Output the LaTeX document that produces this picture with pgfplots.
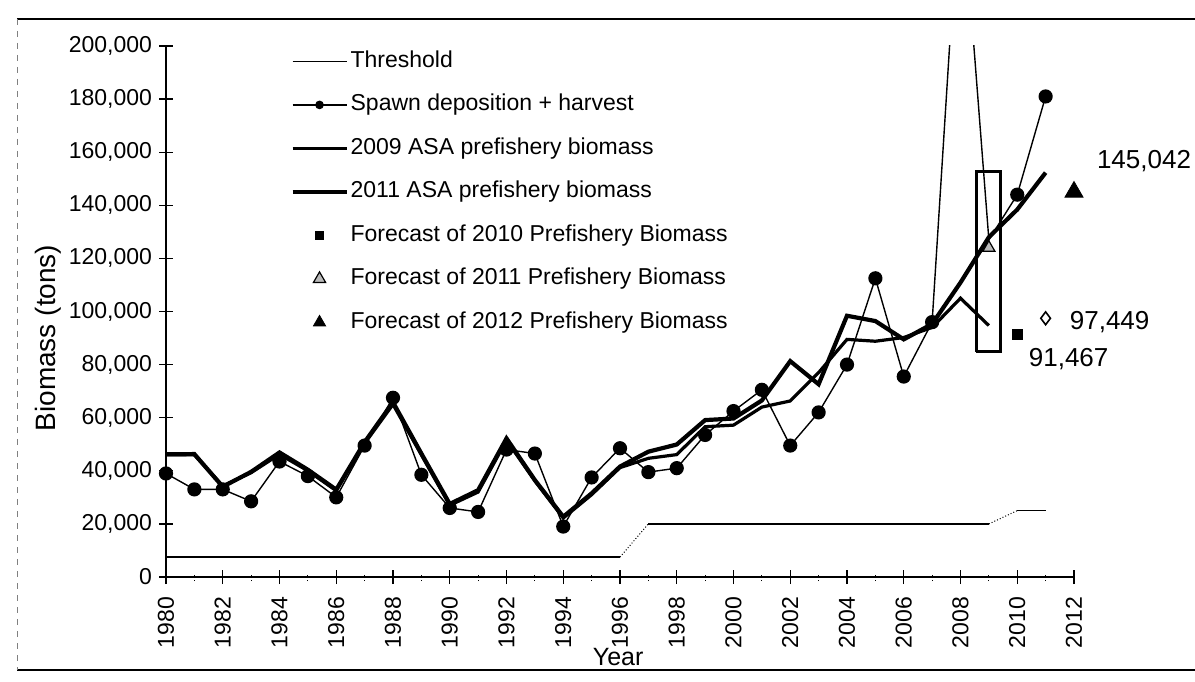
\documentclass[border=0pt]{standalone}
\usepackage{fontspec}
\setmainfont{Liberation Sans}
\usepackage{pgfplots}
\pgfplotsset{compat=1.18}
\begin{document}
\begin{tikzpicture}[x=1pt,y=1pt]
\useasboundingbox (-83,-52) rectangle (514.5,288.5);
\draw[line width=0.7pt] (-74.5,279) -- (514.5,279);
\draw[line width=0.7pt] (-74.5,-46.5) -- (514.5,-46.5);
\draw[line width=0.4pt, dashed, gray] (-74.5,279) -- (-74.5,-46.5);
\begin{axis}[
  at={(0,0)}, anchor=south west,
  width=454pt, height=265.5pt, scale only axis,
  xmin=1980, xmax=2012, ymin=0, ymax=200000,
  axis x line=bottom, axis y line=left,
  axis line style={-, line width=0.8pt},
  clip mode=individual,
  unbounded coords=jump,
  tick align=center,
  major tick length=7pt, minor tick length=4pt,
  tick style={black, line width=0.6pt},
  minor tick style={black, line width=0.4pt, densely dotted},
  xtick={1980,1982,...,2012},
  minor xtick={1981,1983,...,2011},
  ytick={0,20000,...,200000},
  scaled y ticks=false,
  /pgf/number format/assume math mode=true,
  yticklabel style={/pgf/number format/.cd, fixed, 1000 sep={,}},
  xticklabel style={rotate=90, anchor=east, /pgf/number format/1000 sep={}},
  xticklabel shift=3pt,
  tick label style={font=\fontsize{11.5}{13}\selectfont},
  xlabel={Year}, ylabel={Biomass (tons)},
  xlabel style={at={(axis description cs:0.498,-0.151)}, anchor=center, font=\fontsize{12.5}{14}\selectfont},
  ylabel style={at={(axis description cs:-0.13,0.45)}, anchor=center, font=\fontsize{14}{16}\selectfont},
  legend image code/.code={\draw[mark repeat=2,mark phase=2,#1] plot coordinates {(0pt,0pt) (13.5pt,0pt) (27pt,0pt)};},
  legend cell align=left,
  legend style={at={(axis description cs:0.1366,1)}, anchor=north west, yshift=-2pt,
    draw=none, fill=none, inner sep=0pt, row sep=10.75pt,
    font=\fontsize{11.5}{13}\selectfont,
    nodes={inner xsep=1pt, inner ysep=0pt, text height=8.5pt, text depth=2.5pt}},
]
% Threshold
\addplot[black, line width=0.6pt] coordinates {
(1980,7500) (1996,7500) (1996.5,nan) (1997,20000) (2009,20000) (2009.5,nan) (2010,25000) (2011,25000)};
\addlegendentry{Threshold}
% Spawn deposition + harvest
\addplot[black, line width=0.7pt, mark=*, mark size=3.2pt,
  mark indices={1,2,3,4,5,6,7,8,9,10,11,12,13,14,15,16,17,18,19,20,21,22,23,24,25,26,27,28,30,31,32},
  legend image post style={mark indices={2}, mark size=1.8pt}] coordinates {
(1980,39000) (1981,33000) (1982,33000) (1983,28500) (1984,43500) (1985,38000)
(1986,30000) (1987,49500) (1988,67500) (1989,38500) (1990,26000) (1991,24500)
(1992,48000) (1993,46500) (1994,19000) (1995,37500) (1996,48500) (1997,39500)
(1998,41000) (1999,53500) (2000,62500) (2001,70500) (2002,49500) (2003,62000)
(2004,80000) (2005,112500) (2006,75500) (2007,96000) (2008,265000) (2009,127000)
(2010,144000) (2011,181000)};
\addlegendentry{Spawn deposition + harvest}
% 2009 ASA
\addplot[black, line width=1.6pt] coordinates {
(1980,46000) (1981,46000) (1982,34300) (1983,39300) (1984,46200) (1985,40000)
(1986,32500) (1987,50300) (1988,65000) (1989,46000) (1990,27000) (1991,32000)
(1992,51500) (1993,36200) (1994,22200) (1995,31000) (1996,41200) (1997,44700)
(1998,46100) (1999,56600) (2000,57200) (2001,64000) (2002,66300) (2003,77000)
(2004,89500) (2005,88800) (2006,90200) (2007,94000) (2008,105000) (2009,94700)};
\addlegendentry{2009 ASA prefishery biomass}
% 2011 ASA
\addplot[black, line width=2.1pt] coordinates {
(1980,46200) (1981,46300) (1982,34000) (1983,39600) (1984,46900) (1985,40400)
(1986,32900) (1987,50800) (1988,65800) (1989,46500) (1990,27500) (1991,32700)
(1992,52200) (1993,36500) (1994,22700) (1995,31500) (1996,41600) (1997,47200)
(1998,49900) (1999,59100) (2000,59700) (2001,66500) (2002,81300) (2003,72600)
(2004,98400) (2005,96400) (2006,89500) (2007,95300) (2008,110900) (2009,128000)
(2010,138400) (2011,152300)};
\addlegendentry{2011 ASA prefishery biomass}
% Forecast 2010
\addplot[only marks, mark=square*, mark size=2.6pt, black,
  legend image post style={mark size=2pt}] coordinates {(2010,91467)};
\addlegendentry{Forecast of 2010 Prefishery Biomass}
% Forecast 2011
\addplot[only marks, mark=triangle*, mark size=3.5pt, black, mark options={fill=gray!55, line width=0.6pt}] coordinates {(2009,124000)};
\addlegendentry{Forecast of 2011 Prefishery Biomass}
% Forecast 2012
\addplot[only marks, mark=triangle*, mark size=5.2pt, black,
  legend image post style={mark size=3.5pt}] coordinates {(2012,145042)};
\addlegendentry{Forecast of 2012 Prefishery Biomass}
% extras
\addplot[forget plot, black, line width=0.5pt, densely dotted] coordinates {(1996,7500) (1997,20000)};
\addplot[forget plot, black, line width=0.5pt, densely dotted] coordinates {(2009,20000) (2010,25000)};
\addplot[forget plot, only marks, mark=diamond, mark size=3.2pt, black, mark options={fill=white, line width=0.8pt}] coordinates {(2011,97449)};
\addplot[forget plot, black, line width=1.5pt, line join=miter] coordinates {
(2008.55,84800) (2009.42,84800) (2009.42,152700) (2008.55,152700) (2008.55,84800)};
\node[font=\fontsize{13}{15}\selectfont] at (axis cs:2012,145042) [xshift=35pt, yshift=15.4pt] {145,042};
\node[font=\fontsize{13}{15}\selectfont] at (axis cs:2011,97449) [xshift=32pt, yshift=-1.7pt] {97,449};
\node[font=\fontsize{13}{15}\selectfont] at (axis cs:2010,91467) [xshift=25.7pt, yshift=-12.3pt] {91,467};
\end{axis}
\end{tikzpicture}
\end{document}
